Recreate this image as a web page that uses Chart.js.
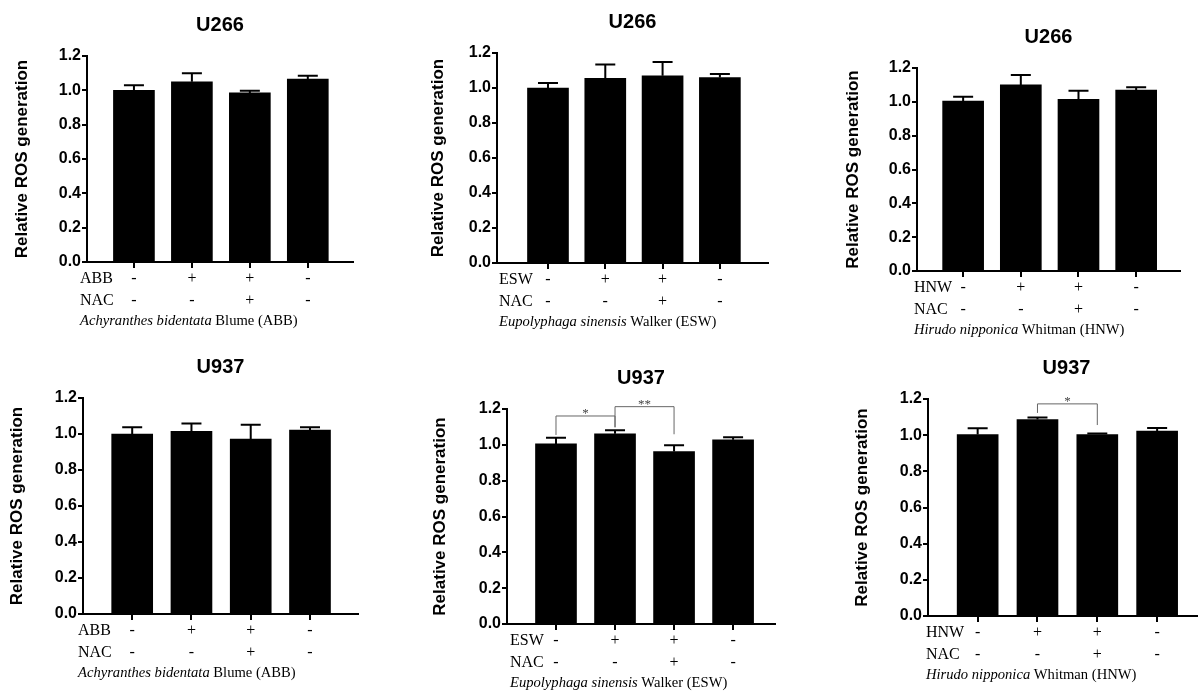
<!DOCTYPE html>
<html>
<head>
<meta charset="utf-8">
<script src="https://cdn.jsdelivr.net/npm/chart.js@4.4.0/dist/chart.umd.min.js"></script>
<style>
body { margin: 0; background: #fff; width: 1198px; height: 691px; overflow: hidden; position: relative; }
canvas { position: absolute; }
</style>
</head>
<body>
<script>
// Данные
const treatRow = ['-', '+', '+', '-'];
const nacRow = ['-', '-', '+', '-'];

const cellLines = ['U266', 'U266', 'U266', 'U937', 'U937', 'U937'];
const drugCodes = ['ABB', 'ESW', 'HNW', 'ABB', 'ESW', 'HNW'];
const speciesNames = ['Achyranthes bidentata', 'Eupolyphaga sinensis', 'Hirudo nipponica',
    'Achyranthes bidentata', 'Eupolyphaga sinensis', 'Hirudo nipponica'];
const speciesAuthors = ['Blume (ABB)', 'Walker (ESW)', 'Whitman (HNW)',
    'Blume (ABB)', 'Walker (ESW)', 'Whitman (HNW)'];

const u266AbbMean = [1.00, 1.05, 0.985, 1.065];
const u266AbbErr = [0.03, 0.05, 0.012, 0.02];
const u266EswMean = [1.00, 1.055, 1.07, 1.06];
const u266EswErr = [0.028, 0.08, 0.078, 0.02];
const u266HnwMean = [1.005, 1.10, 1.015, 1.07];
const u266HnwErr = [0.025, 0.058, 0.05, 0.016];
const u937AbbMean = [1.00, 1.015, 0.972, 1.022];
const u937AbbErr = [0.037, 0.044, 0.08, 0.016];
const u937EswMean = [1.005, 1.062, 0.963, 1.028];
const u937EswErr = [0.035, 0.02, 0.035, 0.015];
const u937HnwMean = [1.003, 1.086, 1.003, 1.023];
const u937HnwErr = [0.035, 0.012, 0.006, 0.017];

// Скобки значимости: от столбца до столбца, высота и низ ножек
const u937EswStars = [
    { from: 0, to: 1, top: 1.161, leftEnd: 1.055, rightEnd: 1.098, text: '*' },
    { from: 1, to: 2, top: 1.213, leftEnd: 1.098, rightEnd: 1.059, text: '**' }
];
const u937HnwStars = [
    { from: 1, to: 2, top: 1.173, leftEnd: 1.123, rightEnd: 1.056, text: '*' }
];

const means = [u266AbbMean, u266EswMean, u266HnwMean, u937AbbMean, u937EswMean, u937HnwMean];
const errors = [u266AbbErr, u266EswErr, u266HnwErr, u937AbbErr, u937EswErr, u937HnwErr];
const stars = [[], [], [], [], u937EswStars, u937HnwStars];

// Расположение панелей (область графика в пикселях страницы)
const panels = [
    { left: 87, top: 56, bottom: 262, right: 353, xMin: -0.81, xMax: 3.78, titleGap: 65, rowX: 80 },
    { left: 497, top: 53, bottom: 263, right: 768, xMin: -0.89, xMax: 3.84, titleGap: 59, rowX: 499 },
    { left: 917, top: 68, bottom: 271, right: 1180, xMin: -0.80, xMax: 3.76, titleGap: 64, rowX: 914 },
    { left: 83, top: 398, bottom: 614, right: 358, xMin: -0.83, xMax: 3.81, titleGap: 66, rowX: 78 },
    { left: 507, top: 409, bottom: 624, right: 775, xMin: -0.83, xMax: 3.71, titleGap: 67, rowX: 510 },
    { left: 928, top: 399, bottom: 616, right: 1205, xMin: -0.83, xMax: 3.80, titleGap: 66, rowX: 926 }
];

const Y_AXIS_W = 80;
const TOP_BLOCK = 50;
const X_AXIS_H = 70;

const extrasPlugin = {
    id: 'extras',
    afterDatasetsDraw(chart, args, opts) {
        const ctx = chart.ctx;
        const xs = chart.scales.x;
        const ys = chart.scales.y;
        ctx.save();
        // Планки погрешностей
        ctx.strokeStyle = '#000';
        ctx.lineWidth = 2;
        opts.mean.forEach((m, i) => {
            const x = xs.getPixelForValue(i);
            const y0 = ys.getPixelForValue(m);
            const y1 = ys.getPixelForValue(m + opts.err[i]);
            ctx.beginPath();
            ctx.moveTo(x, y0);
            ctx.lineTo(x, y1);
            ctx.moveTo(x - 10, y1);
            ctx.lineTo(x + 10, y1);
            ctx.stroke();
        });
        // Скобки значимости
        ctx.strokeStyle = '#666';
        ctx.lineWidth = 1;
        ctx.fillStyle = '#444';
        ctx.font = '13px "Liberation Serif"';
        ctx.textAlign = 'center';
        ctx.textBaseline = 'bottom';
        opts.stars.forEach(s => {
            const xa = xs.getPixelForValue(s.from);
            const xb = xs.getPixelForValue(s.to);
            const yt = ys.getPixelForValue(s.top);
            ctx.beginPath();
            ctx.moveTo(xa, ys.getPixelForValue(s.leftEnd));
            ctx.lineTo(xa, yt);
            ctx.lineTo(xb, yt);
            ctx.lineTo(xb, ys.getPixelForValue(s.rightEnd));
            ctx.stroke();
            ctx.fillText(s.text, (xa + xb) / 2, yt + 4);
        });
        ctx.restore();
    },
    afterDraw(chart, args, opts) {
        const ctx = chart.ctx;
        const xs = chart.scales.x;
        const x0 = opts.rowX;
        ctx.save();
        ctx.fillStyle = '#000';
        ctx.textBaseline = 'middle';
        ctx.textAlign = 'left';
        ctx.font = '16px "Liberation Serif"';
        ctx.fillText(opts.drug, x0, xs.top + 17);
        ctx.fillText('NAC', x0, xs.top + 39);
        // Подпись вида: курсив + обычный текст
        ctx.font = 'italic 14.6px "Liberation Serif"';
        const sp = opts.species + ' ';
        ctx.fillText(sp, x0, xs.top + 59);
        const w = ctx.measureText(sp).width;
        ctx.font = '14.6px "Liberation Serif"';
        ctx.fillText(opts.author, x0 + w, xs.top + 59);
        ctx.restore();
    }
};

panels.forEach((p, k) => {
    const canvas = document.createElement('canvas');
    const cLeft = p.left - Y_AXIS_W;
    const cTop = p.top - TOP_BLOCK;
    const cw = Y_AXIS_W + (p.right - p.left) + 10;
    const ch = TOP_BLOCK + (p.bottom - p.top) + X_AXIS_H;
    canvas.width = cw;
    canvas.height = ch;
    canvas.style.left = cLeft + 'px';
    canvas.style.top = cTop + 'px';
    canvas.style.width = cw + 'px';
    canvas.style.height = ch + 'px';
    document.body.appendChild(canvas);

    const yTitleLh = 17 * 1.2;

    new Chart(canvas.getContext('2d'), {
        type: 'bar',
        data: {
            datasets: [{
                data: means[k].map((v, i) => ({ x: i, y: v })),
                backgroundColor: '#000',
                borderWidth: 0,
                barThickness: 41
            }]
        },
        options: {
            responsive: false,
            animation: false,
            devicePixelRatio: 1,
            layout: { padding: { left: 0, right: 10, top: 0, bottom: 0 } },
            plugins: {
                legend: { display: false },
                tooltip: { enabled: false },
                title: {
                    display: true,
                    text: cellLines[k],
                    color: '#000',
                    fullSize: false,
                    font: { family: '"Liberation Sans", Arial', size: 20, weight: 'bold' },
                    padding: { top: 7, bottom: 19 }
                },
                extras: {
                    mean: means[k],
                    err: errors[k],
                    stars: stars[k],
                    drug: drugCodes[k],
                    species: speciesNames[k],
                    author: speciesAuthors[k],
                    rowX: p.rowX - cLeft
                }
            },
            scales: {
                x: {
                    type: 'linear',
                    offset: false,
                    min: p.xMin,
                    max: p.xMax,
                    afterBuildTicks: scale => {
                        scale.ticks = [0, 1, 2, 3].map(v => ({ value: v }));
                    },
                    afterFit: scale => { scale.height = X_AXIS_H; },
                    grid: { offset: false, drawOnChartArea: false, drawTicks: true, tickLength: 6, color: '#000', lineWidth: 2 },
                    border: { display: true, color: '#000', width: 2 },
                    ticks: {
                        autoSkip: false,
                        maxRotation: 0,
                        padding: 0,
                        color: '#000',
                        font: { family: '"Liberation Serif"', size: 16, lineHeight: '22px' },
                        callback: v => [treatRow[v], nacRow[v]]
                    }
                },
                y: {
                    min: 0,
                    max: 1.2,
                    afterFit: scale => { scale.width = Y_AXIS_W; },
                    grid: { drawOnChartArea: false, drawTicks: true, tickLength: 5, color: '#000', lineWidth: 2 },
                    border: { display: true, color: '#000', width: 2 },
                    ticks: {
                        stepSize: 0.2,
                        padding: 1,
                        color: '#000',
                        font: { family: '"Liberation Sans", Arial', size: 16, weight: 'bold' },
                        callback: v => v.toFixed(1)
                    },
                    title: {
                        display: true,
                        text: 'Relative ROS generation',
                        color: '#000',
                        font: { family: '"Liberation Sans", Arial', size: 17, weight: 'bold' },
                        padding: { top: Y_AXIS_W - p.titleGap - yTitleLh / 2, bottom: 0 }
                    }
                }
            }
        },
        plugins: [extrasPlugin]
    });
});
</script>
</body>
</html>
